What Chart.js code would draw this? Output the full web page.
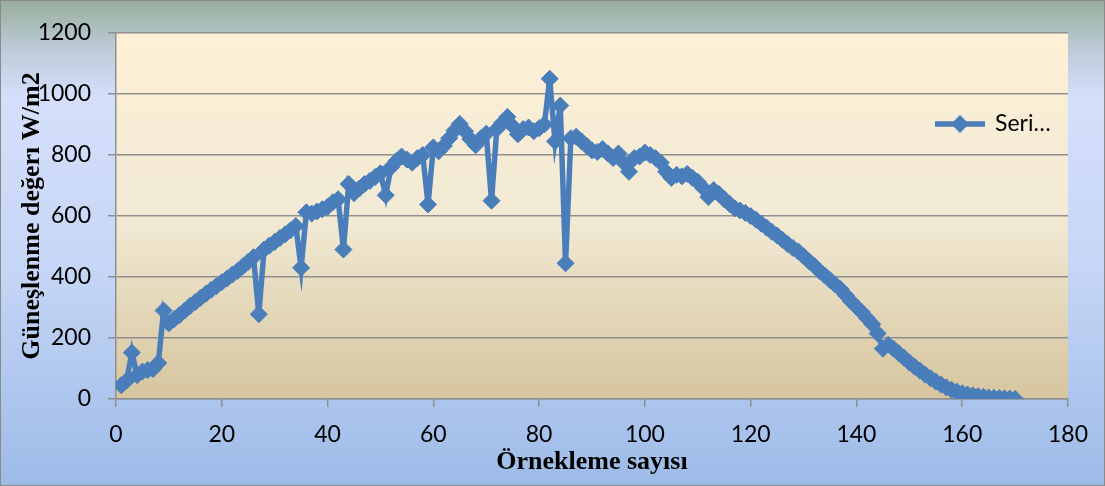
<!DOCTYPE html>
<html>
<head>
<meta charset="utf-8">
<script src="https://cdn.jsdelivr.net/npm/chart.js@4/dist/chart.umd.min.js"></script>
<style>
  html, body { margin: 0; padding: 0; background: #ffffff; }
  #wrap { width: 1105px; height: 486px; position: relative; }
</style>
</head>
<body>
<div id="wrap"><canvas id="c" width="1105" height="486"></canvas></div>
<script>
// Sample numbers (x) and measured irradiance (W/m2) for each sample
const sampleNo = [
  1, 2, 3, 4, 5, 6, 7, 8, 9, 10, 11, 12, 13, 14, 15, 16, 17, 18, 19, 20,
  21, 22, 23, 24, 25, 26, 27, 28, 29, 30, 31, 32, 33, 34, 35, 36, 37, 38, 39, 40,
  41, 42, 43, 44, 45, 46, 47, 48, 49, 50, 51, 52, 53, 54, 55, 56, 57, 58, 59, 60,
  61, 62, 63, 64, 65, 66, 67, 68, 69, 70, 71, 72, 73, 74, 75, 76, 77, 78, 79, 80,
  81, 82, 83, 84, 85, 86, 87, 88, 89, 90, 91, 92, 93, 94, 95, 96, 97, 98, 99, 100,
  101, 102, 103, 104, 105, 106, 107, 108, 109, 110, 111, 112, 113, 114, 115, 116, 117, 118, 119, 120,
  121, 122, 123, 124, 125, 126, 127, 128, 129, 130, 131, 132, 133, 134, 135, 136, 137, 138, 139, 140,
  141, 142, 143, 144, 145, 146, 147, 148, 149, 150, 151, 152, 153, 154, 155, 156, 157, 158, 159, 160,
  161, 162, 163, 164, 165, 166, 167, 168, 169, 170
];
const irradiance = [
  45, 60, 152, 78, 90, 95, 98, 118, 290, 248, 262, 275, 290, 305, 318, 332, 345, 358, 370, 383,
  395, 408, 420, 435, 450, 465, 278, 490, 503, 515, 528, 540, 553, 567, 430, 612, 608, 615, 622, 630,
  645, 655, 490, 705, 675, 690, 705, 715, 728, 740, 668, 760, 780, 795, 785, 775, 790, 800, 638, 825,
  812, 830, 855, 880, 902, 878, 852, 832, 855, 870, 650, 885, 905, 925, 895, 868, 885, 890, 878, 888,
  900, 1050, 845, 962, 445, 855, 860, 845, 830, 815, 810, 820, 805, 790, 805, 775, 745, 790, 795, 808,
  800, 790, 775, 745, 725, 735, 730, 738, 725, 712, 692, 662, 685, 672, 655, 640, 625, 618, 610, 600,
  588, 575, 562, 548, 536, 522, 508, 495, 484, 468, 452, 437, 420, 405, 390, 375, 360, 340, 320, 302,
  285, 265, 245, 215, 165, 178, 165, 150, 135, 120, 106, 93, 80, 68, 57, 47, 38, 30, 24, 19,
  15, 12, 9, 7, 5, 4, 3, 2, 1, 0
];
const xTicks = [0, 20, 40, 60, 80, 100, 120, 140, 160, 180];
const yTicks = [0, 200, 400, 600, 800, 1000, 1200];
const seriesName = 'Seri\u2026';
const xTitle = '\u00D6rnekleme say\u0131s\u0131';
const yTitle = 'G\u00FCne\u015Flenme de\u011Fer\u0131 W/m2';

const lineColor = '#4a7ebb';
const gridColor = '#8f8f8f';

// Chart-area and plot-area fills, outer frame
const backdrop = {
  id: 'backdrop',
  beforeDraw(chart) {
    const { ctx, width, height, chartArea: a } = chart;
    ctx.save();
    const g = ctx.createLinearGradient(0, 0, 0, height);
    g.addColorStop(0, '#98ad9c');
    g.addColorStop(0.1, '#bccbd8');
    g.addColorStop(0.2, '#d5dffb');
    g.addColorStop(0.55, '#c6d6f6');
    g.addColorStop(1, '#9dbbe8');
    ctx.fillStyle = g;
    ctx.fillRect(0, 0, width, height);
    const p = ctx.createLinearGradient(0, a.top, 0, a.bottom);
    p.addColorStop(0, '#fdf0d6');
    p.addColorStop(0.5, '#f2ead5');
    p.addColorStop(1, '#d6c59e');
    ctx.fillStyle = p;
    ctx.fillRect(a.left, a.top, a.right - a.left, a.bottom - a.top);
    ctx.restore();
  },
  afterDraw(chart) {
    const { ctx, width, height } = chart;
    ctx.save();
    ctx.strokeStyle = '#8a8a8a';
    ctx.lineWidth = 1;
    ctx.strokeRect(0.5, 0.5, width - 1, height - 1);
    ctx.restore();
  }
};

// Series key drawn inside the plot at the upper right
const seriesKey = {
  id: 'seriesKey',
  afterDatasetsDraw(chart) {
    const { ctx } = chart;
    const y = 124, x0 = 935, x1 = 985, xm = 960, r = 9;
    ctx.save();
    ctx.strokeStyle = lineColor;
    ctx.lineWidth = 5.5;
    ctx.beginPath();
    ctx.moveTo(x0, y);
    ctx.lineTo(x1, y);
    ctx.stroke();
    ctx.fillStyle = lineColor;
    ctx.beginPath();
    ctx.moveTo(xm - r, y);
    ctx.lineTo(xm, y - r);
    ctx.lineTo(xm + r, y);
    ctx.lineTo(xm, y + r);
    ctx.closePath();
    ctx.fill();
    ctx.fillStyle = '#000000';
    ctx.font = '23px Lato';
    ctx.textBaseline = 'middle';
    ctx.textAlign = 'left';
    ctx.fillText(seriesName, 995, y);
    ctx.restore();
  }
};

const points = sampleNo.map((s, i) => ({ x: s, y: irradiance[i] }));

new Chart(document.getElementById('c'), {
  type: 'line',
  data: {
    datasets: [{
      label: seriesName,
      data: points,
      borderColor: lineColor,
      backgroundColor: lineColor,
      borderWidth: 5.5,
      pointStyle: 'rectRot',
      pointRadius: 8.5,
      pointBorderWidth: 1,
      pointBorderColor: lineColor,
      pointBackgroundColor: lineColor,
      tension: 0,
      fill: false
    }]
  },
  options: {
    responsive: false,
    animation: false,
    events: [],
    layout: { padding: { left: 17, top: 33, right: 37, bottom: 7 } },
    plugins: {
      legend: { display: false },
      tooltip: { enabled: false }
    },
    scales: {
      x: {
        type: 'linear',
        min: xTicks[0],
        max: xTicks[xTicks.length - 1],
        afterBuildTicks(scale) { scale.ticks = xTicks.map(v => ({ value: v })); },
        afterFit(scale) { scale.height = 80; },
        grid: { drawOnChartArea: false, drawTicks: true, tickLength: 8, color: gridColor, lineWidth: 1.5 },
        border: { display: true, color: gridColor, width: 1.5 },
        ticks: {
          color: '#000000', font: { family: 'Lato', size: 23 }, padding: 14, maxRotation: 0,
          callback: v => String(v)
        },
        title: {
          display: true, text: xTitle, color: '#000000',
          font: { family: 'Liberation Serif', size: 26, weight: 'bold' },
          padding: { top: 0, bottom: 1 }
        }
      },
      y: {
        min: yTicks[0],
        max: yTicks[yTicks.length - 1],
        afterBuildTicks(scale) { scale.ticks = yTicks.map(v => ({ value: v })); },
        afterFit(scale) { scale.width = 116 - 17; },
        grid: { drawTicks: true, tickLength: 8, color: gridColor, lineWidth: 1.5 },
        border: { display: true, color: gridColor, width: 1.5 },
        ticks: {
          color: '#000000', font: { family: 'Lato', size: 23 }, padding: 17,
          callback: v => String(v)
        },
        title: {
          display: true, text: yTitle, color: '#000000',
          font: { family: 'Liberation Serif', size: 26, weight: 'bold' },
          padding: 0
        }
      }
    }
  },
  plugins: [backdrop, seriesKey]
});
</script>
</body>
</html>
